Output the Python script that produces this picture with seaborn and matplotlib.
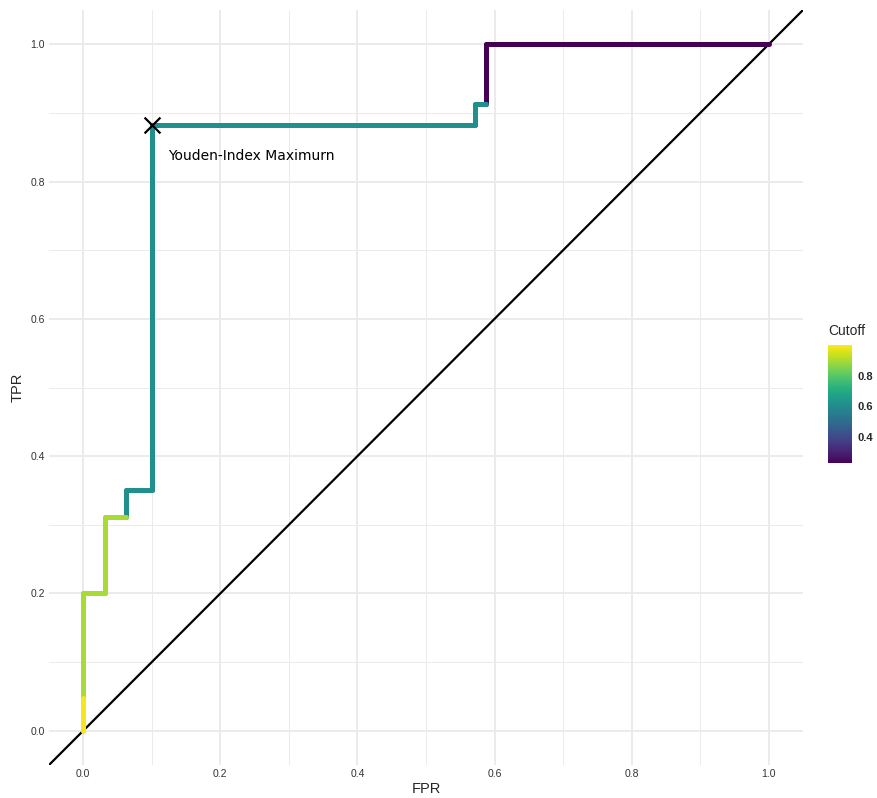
import numpy as np
import pandas as pd
import matplotlib
matplotlib.use("Agg")
import matplotlib.pyplot as plt
import seaborn as sns
from matplotlib.ticker import MultipleLocator

# ROC curve vertices (step path) and the cutoff reached at each vertex
fpr = [0.0, 0.0, 0.0, 0.031, 0.031, 0.0625, 0.0625, 0.1, 0.1, 0.571, 0.571, 0.587, 0.587, 1.0]
tpr = [0.0, 0.047, 0.2, 0.2, 0.312, 0.312, 0.35, 0.35, 0.883, 0.883, 0.9125, 0.9125, 1.0, 1.0]
cutoff = [1.0, 0.99, 0.9, 0.9, 0.9, 0.9, 0.61, 0.61, 0.61, 0.61, 0.61, 0.61, 0.23, 0.23]

youden_idx = 8  # vertex with the largest TPR - FPR
cutoff_range = (0.23, 1.0)
cbar_ticks = [0.4, 0.6, 0.8]
axis_ticks = [0.0, 0.2, 0.4, 0.6, 0.8, 1.0]

# one two-point unit per segment, coloured by the cutoff at its end
rows = []
for i in range(len(fpr) - 1):
    for j in (i, i + 1):
        rows.append({"seg": i, "FPR": fpr[j], "TPR": tpr[j], "Cutoff": cutoff[i + 1]})
roc = pd.DataFrame(rows)

sns.set_theme(style="whitegrid")
plt.rcParams["font.family"] = ["Liberation Sans", "DejaVu Sans"]

fig = plt.figure(figsize=(8.77, 7.98), dpi=100)
ax = fig.add_axes([49 / 877, 1 - 765 / 798, (803 - 49) / 877, (765 - 10) / 798])

ax.set_xlim(-0.05, 1.05)
ax.set_ylim(-0.05, 1.05)
ax.xaxis.set_major_locator(MultipleLocator(0.2))
ax.yaxis.set_major_locator(MultipleLocator(0.2))
ax.xaxis.set_minor_locator(MultipleLocator(0.1))
ax.yaxis.set_minor_locator(MultipleLocator(0.1))
ax.grid(which="major", color="#ebebeb", linewidth=1.4)
ax.grid(which="minor", color="#ebebeb", linewidth=0.7)
ax.set_facecolor("white")
for s in ax.spines.values():
    s.set_visible(False)

ax.axline((0, 0), slope=1, color="black", linewidth=1.6, zorder=2)

sns.lineplot(data=roc, x="FPR", y="TPR", hue="Cutoff", units="seg", estimator=None,
             sort=False, palette="viridis", hue_norm=cutoff_range, legend=False,
             linewidth=3.6, ax=ax, zorder=3)

sns.scatterplot(x=[fpr[youden_idx]], y=[tpr[youden_idx]], marker="x", color="black",
                s=130, linewidth=1.6, ax=ax, zorder=4, legend=False)
ax.text(fpr[youden_idx] + 0.024, tpr[youden_idx] - 0.045, "Youden-Index Maximurn",
        fontsize=10, family="DejaVu Sans", ha="left", va="center", color="black")

ax.set_xticks(axis_ticks)
ax.set_yticks(axis_ticks)
ax.set_xticklabels([f"{t:.1f}" for t in axis_ticks])
ax.set_yticklabels([f"{t:.1f}" for t in axis_ticks])
ax.tick_params(axis="both", which="both", length=0, labelsize=7.5, labelcolor="#333333", pad=3)
ax.set_xlabel("FPR", fontsize=10.5, labelpad=2)
ax.set_ylabel("TPR", fontsize=10.5, labelpad=4)

# colour bar for the cutoff
cax = fig.add_axes([828 / 877, 1 - 463 / 798, 24 / 877, (463 - 345) / 798])
sm = plt.cm.ScalarMappable(cmap="viridis", norm=plt.Normalize(*cutoff_range))
cb = fig.colorbar(sm, cax=cax, ticks=cbar_ticks)
cb.outline.set_visible(False)
cax.yaxis.set_ticks_position("both")
cax.tick_params(direction="in", length=5, color="white", width=0.8,
                labelsize=8, labelright=True, labelleft=False, pad=4)
for lbl in cax.get_yticklabels():
    lbl.set_fontweight("bold")
fig.text(828 / 877, 1 - 331 / 798, "Cutoff", fontsize=10, ha="left", va="center")

fig.savefig("out.png", dpi=100)
